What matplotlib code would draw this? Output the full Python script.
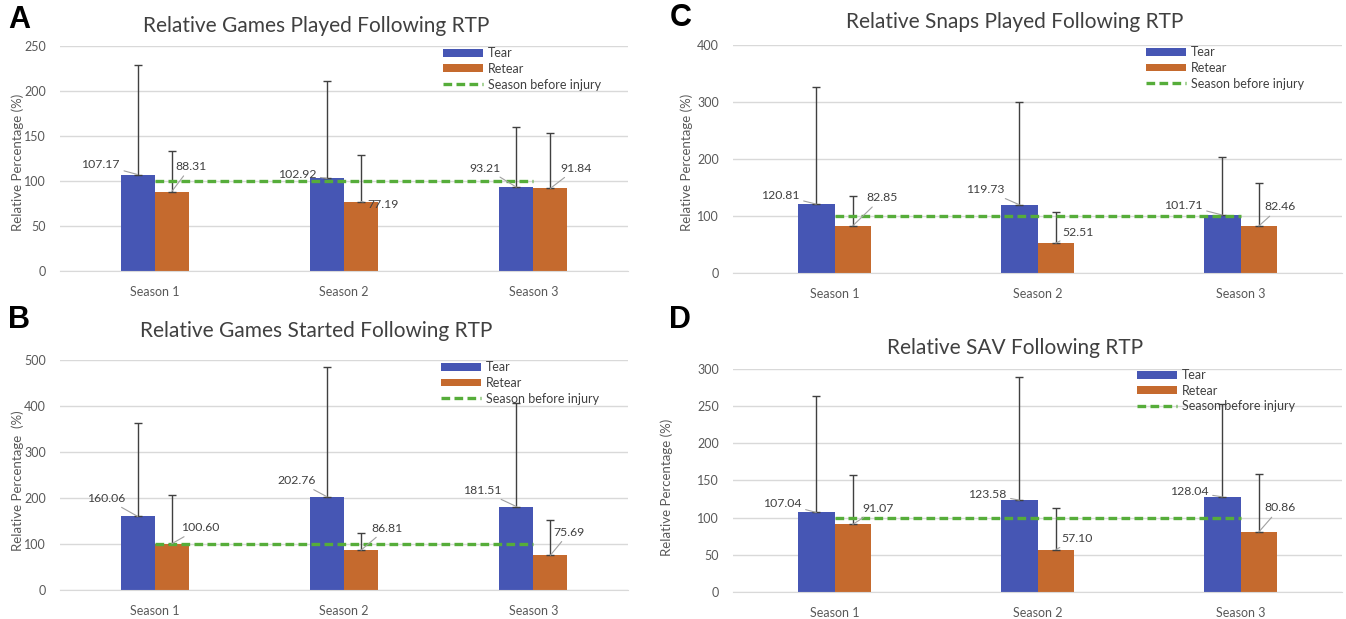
import matplotlib
matplotlib.use('Agg')
import matplotlib.pyplot as plt
import numpy as np

plt.rcParams['font.family'] = ['Lato', 'DejaVu Sans']

# data
seasons = ['Season 1', 'Season 2', 'Season 3']
legend_labels = ['Tear', 'Retear', 'Season before injury']
baseline = [100, 100, 100]

titles = ['Relative Games Played Following RTP',
          'Relative Games Started Following RTP',
          'Relative Snaps Played Following RTP',
          'Relative SAV Following RTP']
letters = ['A', 'B', 'C', 'D']
ylabels = ['Relative Percentage (%)', 'Relative Percentage  (%)',
           'Relative Percentage (%)', 'Relative Percentage (%)']

tear_mean = [[107.17, 102.92, 93.21],
             [160.06, 202.76, 181.51],
             [120.81, 119.73, 101.71],
             [107.04, 123.58, 128.04]]
retear_mean = [[88.31, 77.19, 91.84],
               [100.60, 86.81, 75.69],
               [82.85, 52.51, 82.46],
               [91.07, 57.10, 80.86]]
tear_sd = [[122.2, 108.3, 66.6],
           [204.0, 281.5, 226.0],
           [205.0, 180.5, 101.8],
           [156.0, 165.4, 124.3]]
retear_sd = [[44.5, 51.2, 61.7],
             [106.3, 38.0, 77.0],
             [51.8, 54.0, 75.2],
             [65.9, 56.1, 78.0]]
ymax = [250, 500, 400, 300]
ystep = [50, 100, 100, 50]

# layout (figure fractions)
axes_rect = [[0.0446, 0.5622, 0.422, 0.3635],
             [0.0446, 0.0468, 0.422, 0.3716],
             [0.5446, 0.5590, 0.4525, 0.3683],
             [0.5446, 0.0436, 0.4525, 0.3603]]
title_pos = [(0.2348, 0.958), (0.2348, 0.4653), (0.754, 0.9645), (0.754, 0.4378)]
letter_pos = [(0.0141, 0.968), (0.0141, 0.483), (0.5055, 0.971), (0.5055, 0.483)]
ylabel_pos = [(0.0134, 0.737), (0.0134, 0.224), (0.5104, 0.737), (0.4955, 0.213)]
legend_anchor = [(0.674, 0.995), (0.670, 0.995), (0.678, 0.995), (0.663, 1.0)]

# label offsets in pixels from bar top (dx, dy)
tear_off = [[(-37, 10), (-30, 4), (-31, 19)],
            [(-32, 18), (-30, 16), (-34, 16)],
            [(-36, 9), (-34, 15), (-39, 10)],
            [(-34, 9), (-32, 6), (-33, 5)]]
retear_off = [[(19, 25), (22, -3), (26, 20)],
              [(28, 16), (26, 22), (19, 23)],
              [(29, 28), (22, 11), (21, 19)],
              [(25, 16), (21, 11), (21, 24)]]

c_tear = '#4656b4'
c_retear = '#c56a2e'
c_green = '#56ad3a'
c_grid = '#d9d9d9'
c_text = '#404040'

fig = plt.figure(figsize=(13.46, 6.19), dpi=100)

x = np.arange(len(seasons))
bw = 0.18

for k in range(4):
    ax = fig.add_axes(axes_rect[k])
    b1 = ax.bar(x - bw / 2, tear_mean[k], bw, color=c_tear, label=legend_labels[0], zorder=2)
    b2 = ax.bar(x + bw / 2, retear_mean[k], bw, color=c_retear, label=legend_labels[1], zorder=2)
    ax.errorbar(x - bw / 2, tear_mean[k], yerr=[np.zeros(3), tear_sd[k]], fmt='none',
                ecolor=c_text, elinewidth=1, capsize=3, capthick=1, zorder=3)
    ax.errorbar(x + bw / 2, retear_mean[k], yerr=[np.zeros(3), retear_sd[k]], fmt='none',
                ecolor=c_text, elinewidth=1, capsize=3, capthick=1, zorder=3)
    ln, = ax.plot(x, baseline, color=c_green, lw=2.4, dashes=(2.6, 1.3),
                  label=legend_labels[2], zorder=4)

    for bars, vals, offs in [(b1, tear_mean[k], tear_off[k]), (b2, retear_mean[k], retear_off[k])]:
        for bar, v, (dx, dy) in zip(bars, vals, offs):
            ax.annotate(f'{v:.2f}', (bar.get_x() + bar.get_width() / 2, v),
                        xytext=(dx, dy), textcoords='offset pixels',
                        ha='center', va='center', fontsize=8.8, color=c_text,
                        arrowprops=dict(arrowstyle='-', color='#a0a0a0', lw=0.8,
                                        shrinkA=1, shrinkB=0),
                        zorder=5)

    ax.set_xlim(-0.5, 2.5)
    ax.set_ylim(0, ymax[k])
    ax.set_yticks(np.arange(0, ymax[k] + 1, ystep[k]))
    ax.set_xticks(x)
    ax.set_xticklabels(seasons)
    ax.grid(axis='y', color=c_grid, lw=1, zorder=0)
    ax.set_axisbelow(True)
    for s in ['top', 'right', 'left']:
        ax.spines[s].set_visible(False)
    ax.spines['bottom'].set_color(c_grid)
    ax.tick_params(axis='both', length=0, labelsize=9, labelcolor='#595959')
    ax.tick_params(axis='y', pad=10)
    ax.tick_params(axis='x', pad=11)

    ax.legend([b1, b2, ln], legend_labels, loc='upper left', bbox_to_anchor=legend_anchor[k],
              frameon=False, fontsize=9, handlelength=3.2, handleheight=0.6,
              handletextpad=0.4, labelspacing=0.3, borderpad=0, borderaxespad=0,
              labelcolor=c_text)

    fig.text(*title_pos[k], titles[k], ha='center', va='center', fontsize=15, color='#404040')
    fig.text(*letter_pos[k], letters[k], ha='center', va='center', fontsize=22,
             fontweight='bold', family=['Liberation Sans', 'DejaVu Sans'], color='black')
    fig.text(*ylabel_pos[k], ylabels[k], ha='center', va='center', rotation=90,
             fontsize=9.5, color='#595959')

fig.savefig('out.png', dpi=100)
